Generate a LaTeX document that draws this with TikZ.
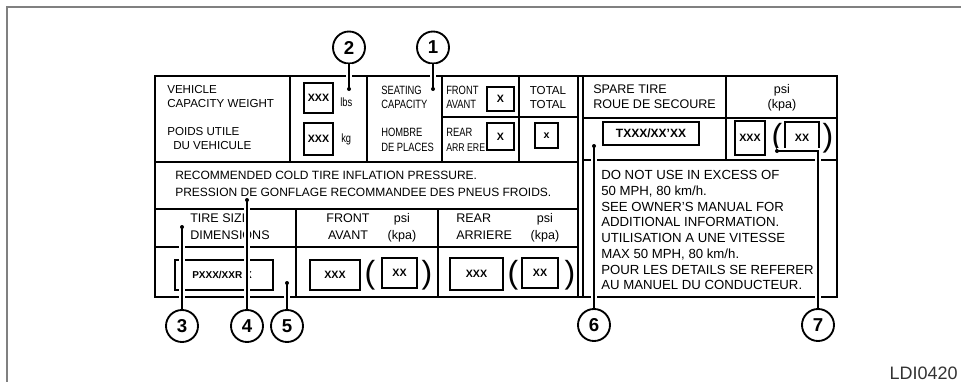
\documentclass[tikz,border=0pt]{standalone}
\usepackage{fontspec}
\setmainfont{Liberation Sans}
\newfontfamily\narrowfont[FakeStretch=0.78]{Liberation Sans}
\usepackage{tikz}

\begin{document}
\begin{tikzpicture}[x=0.75pt, y=-0.75pt,
  txt/.style={anchor=base west, inner sep=0pt, font=\fontsize{8.7}{10}\selectfont},
  ctxt/.style={txt, anchor=base},
  nar/.style={txt, font=\fontsize{9}{10}\narrowfont},
  big/.style={txt, font=\fontsize{9.4}{10}\selectfont},
  cbig/.style={big, anchor=base},
  block/.style={anchor=north west, inner sep=0pt, align=left},
  rule/.style={line width=1.1pt},
  heavy/.style={line width=1.6pt},
  valbox/.style={line width=1.6pt},
  boxtext/.style={inner sep=0pt, font=\fontsize{8}{8}\bfseries},
  paren/.style={inner sep=0pt, font=\fontsize{24}{24}\selectfont},
  callout/.style={circle, draw, line width=1.4pt, minimum size=24pt, inner sep=0pt, fill=white, font=\fontsize{14}{14}\bfseries},
  leader/.style={line width=0.8pt, preaction={draw, white, line width=5pt}}]
  \useasboundingbox (0,0) rectangle (961,382);
  \draw[gray, line width=0.8pt] (7,382) -- (7,7) -- (961,7);

  % label grid
  \draw[heavy] (155,76) rectangle (837,297);
  \draw[heavy] (578,76) -- (578,297) (583,76) -- (583,297);
  \foreach \x in {290,367,442,519} \draw[rule] (\x,76) -- (\x,162);
  \draw[heavy] (442,117) -- (578,117) (155,162) -- (578,162);
  \draw[rule] (155,209) -- (578,209) (155,247) -- (578,247);
  \draw[rule] (296,209) -- (296,297) (438,209) -- (438,297);
  \draw[heavy] (583,118) -- (837,118) (583,160) -- (837,160);
  \draw[rule] (726,76) -- (726,160);

  % capacity weight
  \node[txt] (veh) at (167,93) {VEHICLE};
  \node[txt] (capw) at (167,107) {CAPACITY WEIGHT};
  \node[txt] (poids) at (167,135) {POIDS UTILE};
  \node[txt] (duveh) at (173,149) {DU VEHICULE};
  \draw[valbox] (304,83) rectangle (333,113) node[boxtext, midway] (lbsval) {XXX};
  \draw[valbox] (304,123) rectangle (333,155) node[boxtext, midway] (kgval) {XXX};
  \node[nar] (lbs) at (340,106) {lbs};
  \node[nar] (kg) at (341,142) {kg};

  % seating
  \node[nar] (seat) at (381,94) {SEATING};
  \node[nar] (seatcap) at (381,108) {CAPACITY};
  \node[nar] (hombre) at (381,136) {HOMBRE};
  \node[nar] (places) at (381,151) {DE PLACES};
  \node[nar] (frontt) at (446,94) {FRONT};
  \node[nar] (avantt) at (446,108) {AVANT};
  \node[nar] (reart) at (446,136) {REAR};
  \node[nar, font=\fontsize{8.4}{10}\narrowfont] (arrt) at (446,151) {ARR ERE};
  \draw[valbox] (487,87) rectangle (514,111) node[boxtext, midway] (seatf) {X};
  \draw[valbox] (487,123) rectangle (514,150) node[boxtext, midway] (seatr) {X};
  \node[ctxt] (tot1) at (548,94) {TOTAL};
  \node[ctxt] (tot2) at (548,108) {TOTAL};
  \draw[valbox] (535,123) rectangle (558,148) node[boxtext, midway] (seatt) {x};

  % cold pressure
  \node[block, font=\fontsize{9}{12.75}\selectfont] (recom) at (175,170.7)
    {RECOMMENDED COLD TIRE INFLATION PRESSURE.\\PRESSION DE GONFLAGE RECOMMANDEE DES PNEUS FROIDS.};
  \node[big] (tsize) at (190,222.5) {TIRE SIZE};
  \node[big] (tdim) at (190,239.5) {DIMENSIONS};
  \node[cbig] (fhead) at (348,222.5) {FRONT};
  \node[cbig] (fhead2) at (348,239.5) {AVANT};
  \node[cbig] (fpsi) at (402,222.5) {psi};
  \node[cbig] (fkpa) at (402,239.5) {(kpa)};
  \node[big] (rhead) at (456,222.5) {REAR};
  \node[big] (rhead2) at (456,239.5) {ARRIERE};
  \node[cbig] (rpsi) at (545,222.5) {psi};
  \node[cbig] (rkpa) at (545,239.5) {(kpa)};
  \draw[valbox] (175,260) rectangle (273,290);
  \node[boxtext, anchor=west, font=\fontsize{7.5}{8}\bfseries] (tireval) at (192,275) {PXXX/XXR X};
  \draw[valbox] (310,260) rectangle (360,290) node[boxtext, midway] (fval) {XXX};
  \node[paren] (fo) at (370,275) {(};
  \draw[valbox] (382,258) rectangle (417,288) node[boxtext, midway] (fkval) {XX};
  \node[paren] (fc) at (427,275) {)};
  \draw[valbox] (450,258) rectangle (503,290) node[boxtext, midway] (rval) {XXX};
  \node[paren] (ro) at (513,275) {(};
  \draw[valbox] (522,258) rectangle (558,288) node[boxtext, midway] (rkval) {XX};
  \node[paren] (rc) at (570,275) {)};

  % spare tire
  \node[big] (spare) at (593,93) {SPARE TIRE};
  \node[big] (roue) at (593,108) {ROUE DE SECOURE};
  \node[cbig] (spsi) at (782,93) {psi};
  \node[cbig] (skpa) at (782,108) {(kpa)};
  \draw[valbox] (603,122) rectangle (699,145) node[boxtext, midway, font=\fontsize{9}{9}\bfseries] (spareval) {TXXX/XX'XX};
  \draw[valbox] (735,121) rectangle (765,155) node[boxtext, midway] (sval) {XXX};
  \node[paren] (so) at (777,138) {(};
  \draw[valbox] (785,122) rectangle (819,153) node[boxtext, midway] (skval) {XX};
  \node[paren] (sc) at (828,138) {)};
  \node[block, font=\fontsize{9.9}{11.8}\selectfont] (notes) at (601,170.3)
    {DO NOT USE IN EXCESS OF\\50 MPH, 80 km/h.\\SEE OWNER'S MANUAL FOR\\ADDITIONAL INFORMATION.\\
     UTILISATION A UNE VITESSE\\MAX 50 MPH, 80 km/h.\\POUR LES DETAILS SE REFERER\\AU MANUEL DU CONDUCTEUR.};

  % callouts
  \coordinate (d1) at (433,89);
  \coordinate (d2) at (349,89);
  \coordinate (d3) at (182,227);
  \coordinate (d4) at (247,200);
  \coordinate (d5) at (287,283);
  \coordinate (d6) at (594,146);
  \coordinate (d7) at (777,151);
  \node[callout] (c1) at (433,47.5) {1};
  \node[callout] (c2) at (349,47.5) {2};
  \node[callout] (c3) at (182,326) {3};
  \node[callout] (c4) at (247,326) {4};
  \node[callout] (c5) at (287,326) {5};
  \node[callout] (c6) at (594,325) {6};
  \node[callout] (c7) at (818,325) {7};
  \draw[leader] (d1) -- (c1);
  \draw[leader] (d2) -- (c2);
  \draw[leader] (d3) -- (c3);
  \draw[leader] (d4) -- (c4);
  \draw[leader] (d5) -- (c5);
  \draw[leader] (d6) -- (c6);
  \draw[leader] (d7) -| (c7);
  \foreach \d in {d1,d2,d3,d4,d5,d6,d7} \fill (\d) circle (1.5pt);

  \node[anchor=base east, inner sep=0pt, text=black!80, font=\fontsize{13.5}{14}\selectfont] (code) at (958,379) {LDI0420};
\end{tikzpicture}
\end{document}
